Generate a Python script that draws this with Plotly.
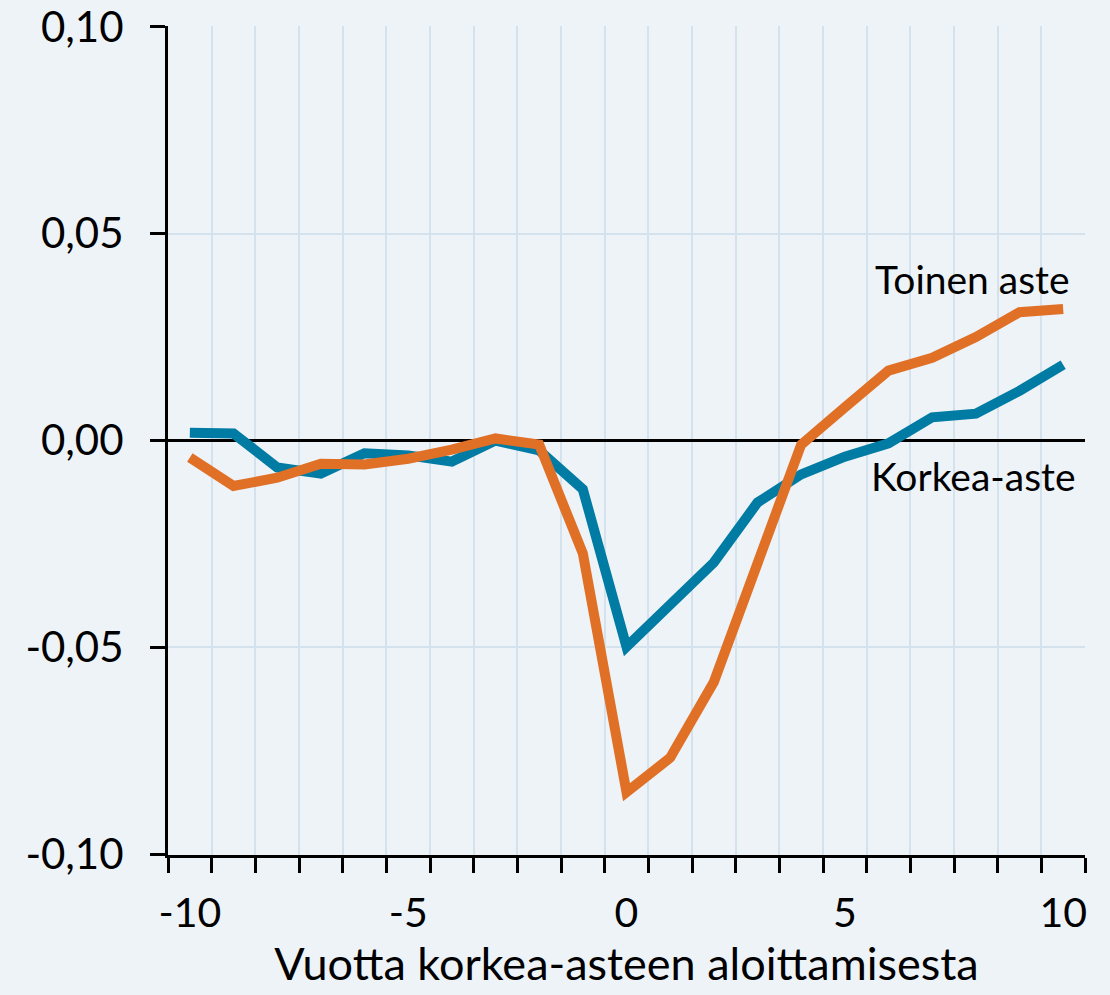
import plotly.graph_objects as go

years = list(range(-10, 11))
toinen_aste = [-0.0041, -0.0110, -0.0090, -0.0056, -0.0058, -0.0044, -0.0022, 0.0005, -0.0010,
               -0.0273, -0.0850, -0.0767, -0.0584, -0.0290, -0.0010, 0.0080, 0.0169, 0.0200,
               0.0250, 0.0310, 0.0318]
korkea_aste = [0.0019, 0.0017, -0.0065, -0.0080, -0.0031, -0.0036, -0.0051, 0.0000, -0.0024,
               -0.0118, -0.0499, -0.0396, -0.0295, -0.0150, -0.0082, -0.0039, -0.0007, 0.0056,
               0.0065, 0.0120, 0.0183]
x_tick_vals = [-10, -5, 0, 5, 10]
x_tick_text = ["-10", "-5", "0", "5", "10"]
y_tick_vals = [-0.10, -0.05, 0.0, 0.05, 0.10]
y_tick_text = ["-0,10", "-0,05", "0,00", "0,05", "0,10"]
series_labels = ["Toinen aste", "Korkea-aste"]

FONT = "Lato"
BG = "#EEF3F8"
GRID = "#D3E2EC"
ORANGE = "#E07026"
BLUE = "#007BA3"

fig = go.Figure()
fig.add_trace(go.Scatter(x=years, y=korkea_aste, mode="lines", name=series_labels[1],
                         line=dict(color=BLUE, width=10), xaxis="x", yaxis="y"))
fig.add_trace(go.Scatter(x=years, y=toinen_aste, mode="lines", name=series_labels[0],
                         line=dict(color=ORANGE, width=10), xaxis="x", yaxis="y"))

half_ticks = [v + 0.5 for v in range(-11, 11)]

fig.update_layout(
    width=1110, height=995,
    paper_bgcolor=BG, plot_bgcolor=BG,
    margin=dict(l=168, r=25, t=26, b=140),
    showlegend=False,
    font=dict(family=FONT, size=41, color="black"),
    xaxis=dict(
        range=[-10.5, 10.5], tickmode="array", tickvals=half_ticks,
        ticktext=["" for _ in half_ticks],
        showgrid=True, gridcolor=GRID, gridwidth=2,
        ticks="outside", ticklen=15, tickwidth=3, tickcolor="black",
        showline=True, linecolor="black", linewidth=3,
        zeroline=False, automargin=False,
    ),
    xaxis2=dict(
        range=[-10.5, 10.5], overlaying="x", anchor="y", side="bottom",
        tickmode="array", tickvals=x_tick_vals, ticktext=x_tick_text,
        showgrid=False, zeroline=False, showline=False, ticks="",
        ticklabelstandoff=30, automargin=False, ticklabeloverflow="allow",
        tickfont=dict(family=FONT, size=41, color="black"),
        title=dict(text="Vuotta korkea-asteen aloittamisesta",
                   font=dict(family=FONT, size=45, color="black"), standoff=0),
    ),
    yaxis=dict(
        range=[-0.1002, 0.1002], tickmode="array", tickvals=y_tick_vals, ticktext=y_tick_text,
        showgrid=True, gridcolor=GRID, gridwidth=2,
        ticks="outside", ticklen=15, tickwidth=3, tickcolor="black",
        showline=True, linecolor="black", linewidth=3,
        zeroline=True, zerolinecolor="black", zerolinewidth=3,
        tickfont=dict(family=FONT, size=42, color="black"),
        ticklabelstandoff=18, automargin=False, ticklabeloverflow="allow",
    ),
)

fig.add_trace(go.Scatter(x=[None], y=[None], xaxis="x2", yaxis="y", showlegend=False,
                         hoverinfo="skip"))

fig.add_annotation(x=10.2, y=0.0390, xref="x", yref="y", text=series_labels[0],
                   showarrow=False, xanchor="right", yanchor="middle",
                   font=dict(family=FONT, size=39, color="black"))
fig.add_annotation(x=10.35, y=-0.0085, xref="x", yref="y", text=series_labels[1],
                   showarrow=False, xanchor="right", yanchor="middle",
                   font=dict(family=FONT, size=39, color="black"))

fig.write_html("out.html", config={"displayModeBar": False},
               post_script="document.body.style.margin='0';document.body.style.overflow='hidden';")
